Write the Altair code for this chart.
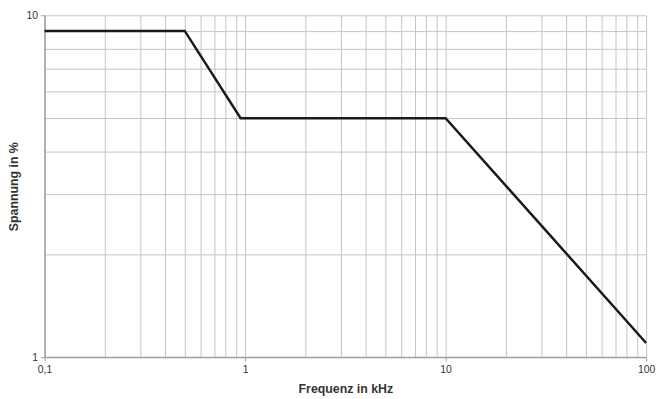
import altair as alt
import pandas as pd

# data
freq_khz = [0.1, 0.5, 0.95, 10, 100]
spannung = [9, 9, 5, 5, 1.1]

x_grid = [0.1, 0.2, 0.3, 0.4, 0.5, 0.6, 0.7, 0.8, 0.9,
          1, 2, 3, 4, 5, 6, 7, 8, 9,
          10, 20, 30, 40, 50, 60, 70, 80, 90, 100]
y_grid = [1, 2, 3, 4, 5, 6, 7, 8, 9, 10]

df = pd.DataFrame({"f": freq_khz, "u": spannung})

FONT = "Liberation Sans"

x_major = "datum.value == 0.1 || datum.value == 1 || datum.value == 10 || datum.value == 100"
y_major = "datum.value == 1 || datum.value == 10"

x_axis = alt.Axis(
    values=x_grid,
    title="Frequenz in kHz",
    labelExpr="datum.value == 0.1 ? '0,1' : (" + x_major + ") ? toString(datum.value) : ''",
    labelOverlap=False, labelFlush=False,
    labelFont=FONT, labelFontSize=10.5, labelColor="#333333", labelPadding=4,
    titleFont=FONT, titleFontSize=12.5, titleFontWeight="bold", titleColor="#333333",
    titlePadding=7,
    grid=True, gridColor="#c4c4c4", gridWidth=1,
    domainColor="#a0a0a0", domainWidth=1.5,
    tickColor="#a0a0a0", tickSize=4,
    tickOpacity={"condition": {"test": x_major, "value": 1}, "value": 0},
)

y_axis = alt.Axis(
    values=y_grid,
    title="Spannung in %",
    labelExpr="(" + y_major + ") ? toString(datum.value) : ''",
    labelOverlap=False, labelFlush=False,
    labelFont=FONT, labelFontSize=10.5, labelColor="#333333", labelPadding=3,
    titleFont=FONT, titleFontSize=12.5, titleFontWeight="bold", titleColor="#333333",
    titlePadding=6,
    grid=True, gridColor="#c4c4c4", gridWidth=1,
    domainColor="#a0a0a0", domainWidth=1.5,
    tickColor="#a0a0a0", tickSize=4,
    tickOpacity={"condition": {"test": y_major, "value": 1}, "value": 0},
)

chart = alt.Chart(df).mark_line(color="#1a1a1a", strokeWidth=2.5).encode(
    x=alt.X("f:Q", scale=alt.Scale(type="log", domain=[0.1, 100], nice=False), axis=x_axis),
    y=alt.Y("u:Q", scale=alt.Scale(type="log", domain=[1, 10], nice=False), axis=y_axis),
).properties(
    width=609,
    height=346,
    autosize=alt.AutoSizeParams(type="none"),
    padding={"left": 37, "top": 5, "right": 12, "bottom": 38},
).configure_view(stroke=None)

chart.save("out.html", embed_options={"renderer": "svg", "actions": False})
